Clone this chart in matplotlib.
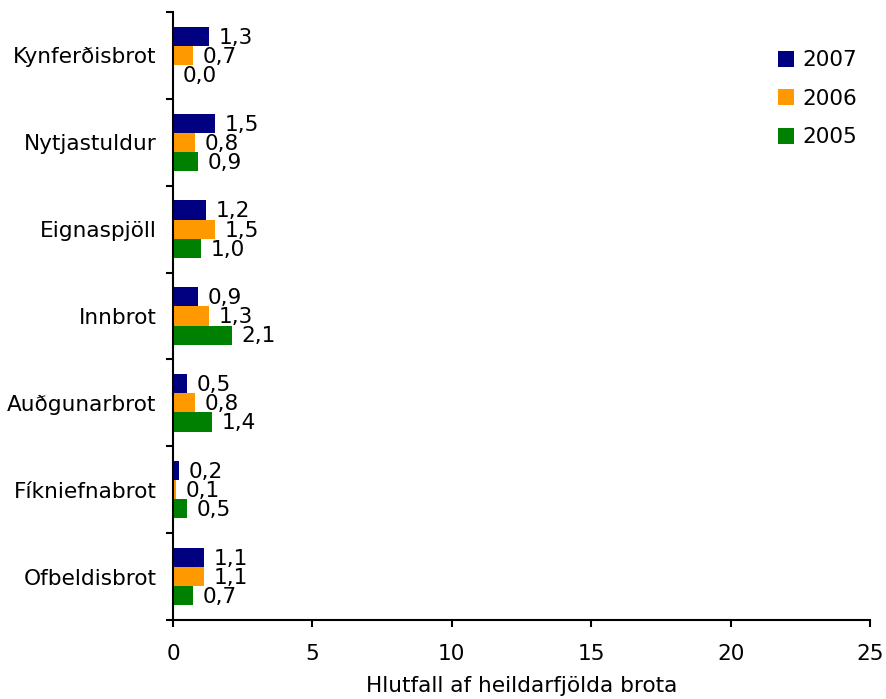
import numpy as np
import matplotlib.pyplot as plt
from matplotlib.patches import Patch

categories = ["Kynferðisbrot", "Nytjastuldur", "Eignaspjöll", "Innbrot",
              "Auðgunarbrot", "Fíkniefnabrot", "Ofbeldisbrot"]
years = ["2007", "2006", "2005"]
v2007 = [1.3, 1.5, 1.2, 0.9, 0.5, 0.2, 1.1]
v2006 = [0.7, 0.8, 1.5, 1.3, 0.8, 0.1, 1.1]
v2005 = [0.0, 0.9, 1.0, 2.1, 1.4, 0.5, 0.7]
colors = ["#000080", "#FF9900", "#008000"]

plt.rcParams['font.family'] = ['DejaVu Sans']
fs = 15.6

fig = plt.figure(figsize=(8.86, 6.99), dpi=100)
ax = fig.add_axes([173 / 886, 1 - 620 / 699, 697 / 886, 608 / 699])

n = len(categories)
pos = np.arange(n)[::-1]  # top category first
h = 0.22
for i, (vals, c) in enumerate(zip([v2007, v2006, v2005], colors)):
    y = pos + (1 - i) * h
    ax.barh(y, vals, height=h, color=c, edgecolor='none')
    for yy, v in zip(y, vals):
        ax.annotate(("%.1f" % v).replace('.', ','), (v, yy),
                    xytext=(7, -1), textcoords='offset points',
                    va='center', ha='left', fontsize=fs)

ax.set_xlim(0, 25)
ax.set_ylim(-0.5, n - 0.5)
ax.set_xticks([0, 5, 10, 15, 20, 25])
ax.tick_params(axis='x', labelsize=fs, length=5, width=1.5, pad=12)
ax.set_yticks(np.arange(n + 1) - 0.5)
ax.set_yticklabels([])
ax.set_yticks(pos, minor=True)
ax.set_yticklabels(categories, minor=True)
ax.tick_params(axis='y', which='major', length=5, width=1.5)
ax.tick_params(axis='y', which='minor', length=0, labelsize=fs, pad=12)

for s in ['top', 'right']:
    ax.spines[s].set_visible(False)
for s in ['left', 'bottom']:
    ax.spines[s].set_linewidth(1.5)

ax.set_xlabel("Hlutfall af heildarfjölda brota", fontsize=fs, labelpad=9)

handles = [Patch(facecolor=c, edgecolor='none') for c in colors]
fig.legend(handles, years, loc='upper left', bbox_to_anchor=(758 / 886, 1 - 31 / 699),
           frameon=False, fontsize=fs, handlelength=0.75, handleheight=0.75,
           handletextpad=0.4, labelspacing=0.85)

fig.savefig("out.png", dpi=100)
